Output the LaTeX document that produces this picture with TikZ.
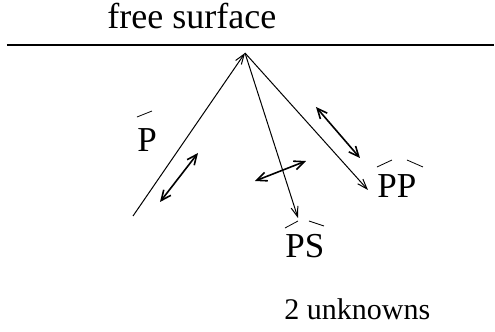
\documentclass[tikz,border=0pt]{standalone}
\usepackage{fontspec}
\setmainfont{Liberation Serif}
\newfontfamily\timesfont{Liberation Serif}
\usetikzlibrary{arrows.meta}

\begin{document}
\begin{tikzpicture}[
    x=0.5pt, y=-0.5pt,
    lbl/.style={anchor=base west, inner sep=0pt, font=\timesfont\fontsize{17.5}{20}\selectfont},
    ray/.style={line width=0.5pt, -{Straight Barb[length=5pt, width=3.5pt]}},
    pol/.style={line width=0.8pt, {Straight Barb[length=5pt, width=4.5pt]}-{Straight Barb[length=5pt, width=4.5pt]}},
    accent/.style={line width=0.4pt}
]
    \useasboundingbox (0,0) rectangle (495,332);

    % Free surface
    \coordinate (sl) at (7,45);
    \coordinate (sr) at (494,45);
    \draw[line width=0.6pt] (sl) -- (sr);
    \node[lbl, font=\timesfont\fontsize{18}{21}\selectfont] (surf) at (107,29) {free surface};

    % Reflection point and ray ends
    \coordinate (apex) at (245,53);
    \coordinate (pin) at (133,216);
    \coordinate (psout) at (298,218);
    \coordinate (ppout) at (368,190);

    % Labels
    \node[lbl] (p) at (137,152) {P};
    \node[lbl] (pp) at (377,198) {PP};
    \node[lbl] (ps) at (285,258) {PS};
    \node[lbl, font=\timesfont\fontsize{15}{18}\selectfont] (unk) at (284,320) {2 unknowns};

    % Rays
    \draw[ray] (pin) -- (apex);
    \draw[ray] (apex) -- (psout);
    \draw[ray] (apex) -- (ppout);

    % Polarisations
    \draw[pol] (160,202) -- (198,153);
    \draw[pol] (255,181) -- (306,161);
    \draw[pol] (316,107) -- (360,158);

    % Accents
    \draw[accent] (137,117) -- (152,111);
    \draw[accent] (377,167) -- (392,160);
    \draw[accent] (407,160) -- (423,167);
    \draw[accent] (285,228) -- (298,221);
    \draw[accent] (309,221) -- (324,226);
\end{tikzpicture}
\end{document}
